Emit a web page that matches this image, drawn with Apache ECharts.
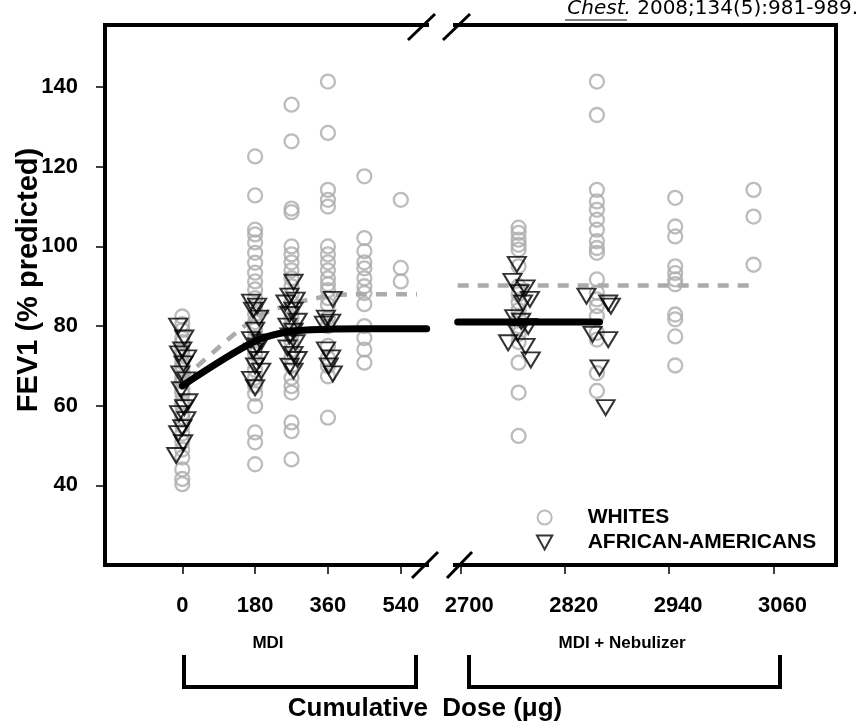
<!DOCTYPE html>
<html>
<head>
<meta charset="utf-8">
<script src="https://cdn.jsdelivr.net/npm/echarts@6/dist/echarts.min.js"></script>
<style>html,body{margin:0;padding:0;background:#fff;}#c{width:860px;height:723px;}</style>
</head>
<body>
<div id="c"></div>
<script>
// ---------------- DATA ----------------
const mdiTicks = [0, 180, 360, 540];
const nebTicks = [2700, 2820, 2940, 3060];
const yTicks = [40, 60, 80, 100, 120, 140];

// Whites, MDI phase: dose -> FEV1 values
const whitesMdiDoses = [0, 180, 270, 360, 450, 540];
const whitesMdiValues = [
  [82.4, 80.5, 79, 77, 76, 74, 73, 71, 70, 69, 67, 66, 64, 63, 61, 60, 58, 57, 55, 53, 51, 49, 47, 44, 41.6, 40.3],
  [122.6, 112.8, 104.2, 103, 101, 98.4, 95.9, 93.4, 91.2, 89.2, 87, 85, 83, 81, 79, 77, 75, 73, 71, 69, 67, 65, 63, 59.9, 53.3, 50.8, 45.3],
  [135.6, 126.4, 109.5, 108.6, 100, 98, 96, 94, 92, 90, 88, 86, 84, 82, 80, 78, 76, 74, 72, 70, 67, 64.9, 63.3, 55.8, 53.6, 46.5],
  [141.4, 128.5, 114.2, 111.7, 110, 100, 98, 96, 94, 92, 90.5, 89, 87, 85.3, 82, 80, 75, 72, 70, 67.4, 57],
  [117.6, 102.1, 98.8, 96, 94.5, 92, 90, 88.3, 85.5, 80, 77, 74.1, 70.8],
  [111.7, 94.6, 91.2]
];
// Whites, MDI + nebulizer phase
const whitesNebDoses = [2767, 2857, 2947, 3037];
const whitesNebValues = [
  [104.7, 103.4, 101.7, 100.4, 99.2, 95, 90, 88, 86, 84, 82, 80, 78, 76, 70.8, 63.3, 52.4],
  [141.4, 133, 114.2, 111.3, 109.2, 106.7, 104.2, 101.3, 99.6, 98.4, 91.7, 88.4, 86.7, 85, 82.5, 78.3, 76.6, 68.2, 63.7],
  [112.2, 105, 102.5, 95, 93.3, 91.7, 90.5, 82.9, 81.7, 77.4, 70.1],
  [114.2, 107.5, 95.4]
];
// African-Americans: [dose (as plotted), FEV1]
const aaMdi = [
  [-10, 80], [5, 77], [0, 74], [-8, 73], [12, 72], [3, 70.5], [-5, 68], [10, 66.5], [-3, 64], [15, 61], [5, 59.5], [-8, 58], [10, 56.5], [0, 54.5], [-10, 53], [2, 50.7], [-15, 47.5],
  [170, 86], [185, 85], [175, 84], [190, 82], [180, 79], [170, 76.6], [195, 76], [185, 75], [175, 73.7], [190, 71.6], [180, 70], [195, 68.7], [170, 66.6], [180, 64.5],
  [275, 91], [265, 87.5], [280, 86.5], [255, 85.8], [275, 84], [265, 82.9], [285, 81.2], [260, 80], [275, 78.7], [265, 77.5], [280, 75.8], [260, 74.5], [275, 72.9], [285, 71.6], [265, 69.9], [275, 68.7],
  [372, 86.7], [355, 82], [368, 81], [350, 80.5], [355, 74], [368, 72], [362, 70], [372, 68]
];
const aaNeb = [
  [2765, 95.5], [2760, 91.2], [2775, 89.6], [2768, 88.4], [2780, 86.7], [2772, 85.8], [2762, 82.1], [2770, 81.2], [2778, 79.9], [2766, 78.3], [2755, 75.8], [2775, 74.9], [2781, 71.5],
  [2845, 87.5], [2870, 85.8], [2873, 85], [2852, 77.9], [2870, 76.6], [2860, 69.5], [2867, 59.5]
];
// Mean lines
const whitesMeanMdi = [[0, 66.5], [180, 82], [270, 85.5], [360, 87.5], [450, 88], [540, 88], [580, 88]];
const aaMeanMdi = [[0, 65], [180, 76.2], [270, 78.7], [360, 79.2], [450, 79.3], [540, 79.3], [604, 79.3]];
const whitesMeanNeb = [[2697, 90.2], [3035, 90.2]];
const aaMeanNeb = [[2697, 81], [2860, 81]];

// ---------------- BUILD ----------------
function flatten(doses, values) {
  const out = [];
  doses.forEach((d, i) => values[i].forEach(v => out.push([d, v])));
  return out;
}
const FONT = "'Liberation Sans', Arial, sans-serif";
const GRAY = '#ababab';
const axisLineStyle = { color: '#000', width: 4, cap: 'square' };
const lbl = { color: '#000', fontFamily: FONT, fontWeight: 'bold', fontSize: 22, formatter: v => String(v) };

const chart = echarts.init(document.getElementById('c'), null, { renderer: 'canvas' });

const circleStyle = { color: 'rgba(0,0,0,0)', borderColor: GRAY, borderWidth: 2.3 };
const triStyle = { color: 'rgba(0,0,0,0)', borderColor: '#000', borderWidth: 2 };

function xAxisBottom(grid, min, max, ticks, pad) {
  return {
    type: 'value', gridIndex: grid, position: 'bottom', min, max,
    axisLine: { show: true, onZero: false, lineStyle: axisLineStyle },
    axisTick: { show: true, length: 9, customValues: ticks, lineStyle: { color: '#000', width: 1.5 } },
    axisLabel: { show: true, customValues: ticks, margin: 30, padding: pad, ...lbl },
    splitLine: { show: false }
  };
}
function bareAxis(grid, pos, min, max) {
  return {
    type: 'value', gridIndex: grid, position: pos, min, max,
    axisLine: { show: true, onZero: false, lineStyle: axisLineStyle },
    axisTick: { show: false }, axisLabel: { show: false }, splitLine: { show: false }
  };
}

const option = {
  animation: false,
  backgroundColor: '#fff',
  grid: [
    { left: 105, top: 25, width: 322, height: 540 },
    { left: 455, top: 25, width: 381, height: 540 }
  ],
  xAxis: [
    xAxisBottom(0, -191, 604.8, mdiTicks, [0, 0, 0, 0]),
    bareAxis(0, 'top', -191, 604.8),
    xAxisBottom(1, 2693.9, 3131.8, nebTicks, [0, 0, 0, 18]),
    bareAxis(1, 'top', 2693.9, 3131.8)
  ],
  yAxis: [
    {
      type: 'value', gridIndex: 0, position: 'left', min: 20, max: 155.6,
      axisLine: { show: true, onZero: false, lineStyle: axisLineStyle },
      axisTick: { show: true, length: 9, customValues: yTicks, lineStyle: { color: '#000', width: 1.5 } },
      axisLabel: { show: true, customValues: yTicks, margin: 27, ...lbl },
      splitLine: { show: false },
      name: 'FEV1 (% predicted)', nameLocation: 'middle', nameGap: 62, nameRotate: 90, nameMoveOverlap: false,
      nameTextStyle: { color: '#000', fontFamily: FONT, fontWeight: 'bold', fontSize: 29, padding: [0, 0, 0, 30] }
    },
    bareAxis(1, 'right', 20, 155.6)
  ],
  legend: {
    left: 531, top: 502, orient: 'vertical', itemWidth: 76, itemHeight: 14, itemGap: 4,
    symbolKeepAspect: true,
    textStyle: { color: '#000', fontFamily: FONT, fontWeight: 'bold', fontSize: 21 },
    data: [
      { name: 'WHITES', icon: 'circle', itemStyle: { color: 'rgba(0,0,0,0)', borderColor: GRAY, borderWidth: 2 } },
      { name: 'AFRICAN-AMERICANS', icon: 'path://M0,0 L12,0 L6,11 Z', itemStyle: { color: 'rgba(0,0,0,0)', borderColor: '#000', borderWidth: 2 } }
    ]
  },
  series: [
    { name: 'WHITES', type: 'scatter', xAxisIndex: 0, yAxisIndex: 0, data: flatten(whitesMdiDoses, whitesMdiValues),
      symbol: 'circle', symbolSize: 14, itemStyle: circleStyle, z: 2 },
    { name: 'WHITES', type: 'scatter', xAxisIndex: 2, yAxisIndex: 1, data: flatten(whitesNebDoses, whitesNebValues),
      symbol: 'circle', symbolSize: 14, itemStyle: circleStyle, z: 2 },
    { name: 'whites mean', type: 'line', xAxisIndex: 0, yAxisIndex: 0, data: whitesMeanMdi, symbol: 'none', smooth: 0.3,
      lineStyle: { color: GRAY, width: 4.5, type: [11, 9] }, z: 3 },
    { name: 'whites mean', type: 'line', xAxisIndex: 2, yAxisIndex: 1, data: whitesMeanNeb, symbol: 'none',
      lineStyle: { color: GRAY, width: 4.5, type: [11, 9] }, z: 3 },
    { name: 'AFRICAN-AMERICANS', type: 'scatter', xAxisIndex: 0, yAxisIndex: 0, data: aaMdi,
      symbol: 'triangle', symbolRotate: 180, symbolSize: [18, 15], itemStyle: triStyle, z: 4 },
    { name: 'AFRICAN-AMERICANS', type: 'scatter', xAxisIndex: 2, yAxisIndex: 1, data: aaNeb,
      symbol: 'triangle', symbolRotate: 180, symbolSize: [18, 15], itemStyle: triStyle, z: 4 },
    { name: 'aa mean', type: 'line', xAxisIndex: 0, yAxisIndex: 0, data: aaMeanMdi, symbol: 'none', smooth: 0.3,
      lineStyle: { color: '#000', width: 7, cap: 'round' }, z: 5 },
    { name: 'aa mean', type: 'line', xAxisIndex: 2, yAxisIndex: 1, data: aaMeanNeb, symbol: 'none',
      lineStyle: { color: '#000', width: 7, cap: 'round' }, z: 5 }
  ],
  graphic: [
    // axis break marks
    { type: 'line', shape: { x1: 408, y1: 40, x2: 435, y2: 14 }, style: { stroke: '#000', lineWidth: 3 } },
    { type: 'line', shape: { x1: 443, y1: 40, x2: 470, y2: 14 }, style: { stroke: '#000', lineWidth: 3 } },
    { type: 'line', shape: { x1: 412, y1: 578, x2: 438, y2: 552 }, style: { stroke: '#000', lineWidth: 3 } },
    { type: 'line', shape: { x1: 447, y1: 578, x2: 472, y2: 552 }, style: { stroke: '#000', lineWidth: 3 } },
    // brackets
    { type: 'polyline', shape: { points: [[184, 655], [184, 687], [416, 687], [416, 655]] }, style: { stroke: '#000', lineWidth: 4, fill: null } },
    { type: 'polyline', shape: { points: [[469, 655], [469, 687], [780, 687], [780, 655]] }, style: { stroke: '#000', lineWidth: 4, fill: null } },
    { type: 'text', x: 268, y: 643, style: { text: 'MDI', font: "bold 17px 'Liberation Sans', Arial", fill: '#000', align: 'center', verticalAlign: 'middle' } },
    { type: 'text', x: 622, y: 643, style: { text: 'MDI + Nebulizer', font: "bold 17px 'Liberation Sans', Arial", fill: '#000', align: 'center', verticalAlign: 'middle' } },
    { type: 'text', x: 425, y: 709, style: { text: 'Cumulative  Dose (μg)', font: "bold 26px 'Liberation Sans', Arial", fill: '#000', align: 'center', verticalAlign: 'middle' } },
    // source
    { type: 'text', x: 858, y: -1, style: { text: '{i|Chest.} 2008;134(5):981-989.', font: "20px 'DejaVu Sans', Verdana", fill: '#000', align: 'right', verticalAlign: 'top',
      rich: { i: { fontStyle: 'italic', fontFamily: "'DejaVu Sans', Verdana", fontSize: 20 } } } },
    { type: 'line', shape: { x1: 565, y1: 20, x2: 627, y2: 20 }, style: { stroke: '#000', lineWidth: 1 } }
  ]
};
chart.setOption(option);
</script>
</body>
</html>
